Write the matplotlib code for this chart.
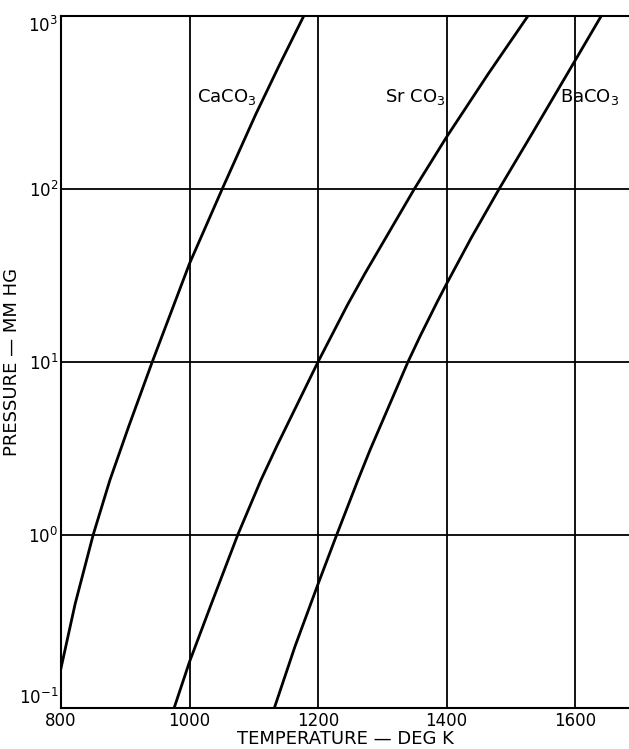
import matplotlib.pyplot as plt
from matplotlib.ticker import FixedLocator, NullLocator

# Dissociation pressure curves (deg K, mm Hg)
caco3_t = [800, 822, 850, 876, 905, 942, 1000, 1051, 1076, 1103, 1140, 1178]
caco3_p = [0.17, 0.40, 1.0, 2.07, 4.2, 10, 37, 100, 161, 269, 520, 1000]

srco3_t = [976, 1000, 1034, 1075, 1111, 1136, 1200, 1246, 1273, 1350, 1400, 1465, 1527]
srco3_p = [0.1, 0.185, 0.40, 1.0, 2.07, 3.27, 10, 21.4, 32.4, 100, 199, 462, 1000]

baco3_t = [1132, 1164, 1200, 1229, 1262, 1281, 1340, 1359, 1386, 1400, 1439, 1482, 1535, 1600, 1641]
baco3_p = [0.1, 0.226, 0.52, 1.0, 2.07, 3.1, 10, 14.1, 22.4, 28.2, 52.5, 100, 214, 550, 1000]

labels = ['CaCO$_3$', 'Sr CO$_3$', 'BaCO$_3$']
label_t = [1012, 1304, 1577]
label_p = [340, 340, 340]

x_ticks = [800, 1000, 1200, 1400, 1600]
y_ticks = [0.1, 1, 10, 100, 1000]
y_ticklabels = ['$10^{-1}$', '$10^{0}$', '$10^{1}$', '$10^{2}$', '$10^{3}$']

fig = plt.figure(figsize=(6.29, 7.49), dpi=100)
ax = fig.add_axes([0.097, 0.0547, 0.903, 0.9243])

for t, p in [(caco3_t, caco3_p), (srco3_t, srco3_p), (baco3_t, baco3_p)]:
    ax.plot(t, p, color='black', lw=2.0, solid_joinstyle='round')

ax.set_yscale('log')
ax.set_xlim(800, 1684)
ax.set_ylim(0.1, 1000)

ax.xaxis.set_major_locator(FixedLocator(x_ticks))
ax.yaxis.set_major_locator(FixedLocator(y_ticks))
ax.yaxis.set_minor_locator(NullLocator())
ax.set_yticklabels(y_ticklabels)
ax.tick_params(length=0, labelsize=12, pad=3)
ax.tick_params(axis='y', pad=2)
ax.grid(True, color='black', lw=1.3)

ylabs = ax.get_yticklabels()
for lab in ylabs:
    lab.set_va('center_baseline')
ylabs[0].set_va('bottom')
ylabs[-1].set_va('top')

for s in ['left', 'bottom', 'top']:
    ax.spines[s].set_linewidth(1.5)
ax.spines['right'].set_visible(False)

# curve labels
for lab, t, p in zip(labels, label_t, label_p):
    ax.text(t, p, lab, fontsize=13, ha='left', va='center')

ax.set_xlabel('TEMPERATURE — DEG K', fontsize=13, labelpad=0)
ax.set_ylabel('PRESSURE — MM HG', fontsize=13)
ax.yaxis.set_label_coords(-0.07, 0.5)

fig.savefig('out.png', dpi=100)
